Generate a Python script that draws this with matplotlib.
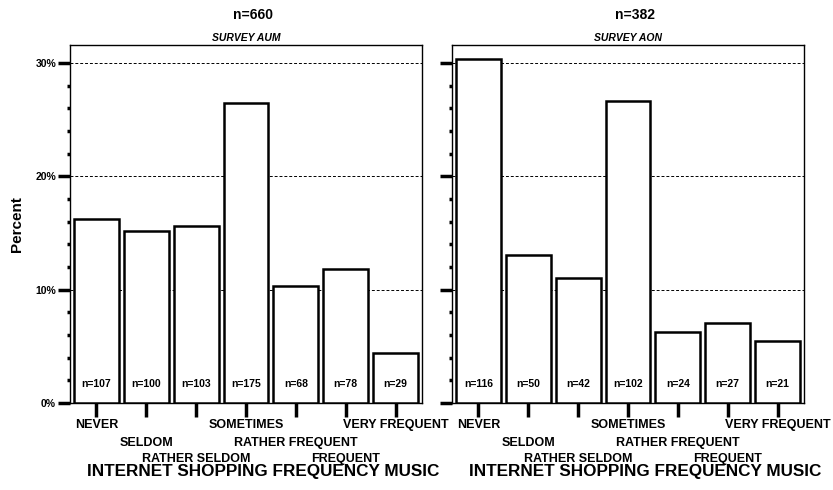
import matplotlib
matplotlib.use('Agg')
import matplotlib.pyplot as plt
from matplotlib.ticker import MultipleLocator, FuncFormatter

plt.rcParams['font.family'] = ['Liberation Sans', 'DejaVu Sans']
plt.rcParams['font.weight'] = 'bold'

categories = ['NEVER', 'SELDOM', 'RATHER SELDOM', 'SOMETIMES',
              'RATHER FREQUENT', 'FREQUENT', 'VERY FREQUENT']
aum_pct = [16.2, 15.2, 15.6, 26.5, 10.3, 11.8, 4.4]
aum_n = [107, 100, 103, 175, 68, 78, 29]
aon_pct = [30.4, 13.1, 11.0, 26.7, 6.3, 7.1, 5.5]
aon_n = [116, 50, 42, 102, 24, 27, 21]
panels = [('SURVEY AUM', 660, aum_pct, aum_n), ('SURVEY AON', 382, aon_pct, aon_n)]

fig = plt.figure(figsize=(8.33, 4.9), dpi=100)
lefts = [70 / 833, 452 / 833]
row_y = [-1.95, -3.55, -4.9]

for i, (survey, total, pct, counts) in enumerate(panels):
    ax = fig.add_axes([lefts[i], 87 / 490, 352 / 833, 358 / 490])
    x = range(len(categories))
    ax.bar(x, pct, width=0.9, color='white', edgecolor='black', linewidth=1.8, zorder=3)
    for xi, n in zip(x, counts):
        ax.text(xi, 1.2, f'n={n}', ha='center', va='bottom', fontsize=7.5,
                fontweight='bold', zorder=4)
    for g in (10, 20, 30):
        ax.axhline(g, color='black', linestyle=(0, (3, 2)), linewidth=0.7, zorder=1)
    ax.set_xlim(-0.53, 6.53)
    ax.set_ylim(0, 31.6)
    ax.yaxis.set_major_locator(MultipleLocator(10))
    ax.yaxis.set_minor_locator(MultipleLocator(2))
    ax.yaxis.set_major_formatter(FuncFormatter(lambda v, p: f'{int(v)}%'))
    ax.tick_params(axis='y', which='major', direction='out', length=9, width=2.5,
                   labelsize=7.5, pad=1)
    ax.tick_params(axis='y', which='minor', direction='out', length=2, width=2.5)
    if i == 1:
        ax.set_yticklabels([])
    ax.set_xticks(list(x))
    ax.set_xticklabels([])
    ax.tick_params(axis='x', direction='out', length=10, width=2.5, pad=2)
    for s in ax.spines.values():
        s.set_linewidth(1.0)
    # staggered category labels, three rows
    for xi, cat in enumerate(categories):
        ax.text(xi, row_y[xi % 3], cat, ha='center', va='center', fontsize=9,
                fontweight='bold', clip_on=False)
    ax.text(0.55, -0.19, 'INTERNET SHOPPING FREQUENCY MUSIC', transform=ax.transAxes,
            ha='center', va='center', fontsize=12.3, fontweight='bold')
    ax.text(0.5, 1.005, survey, transform=ax.transAxes, ha='center', va='bottom',
            fontsize=7.5, fontweight='bold', style='italic')
    ax.text(0.52, 1.065, f'n={total}', transform=ax.transAxes, ha='center', va='bottom',
            fontsize=10, fontweight='bold')
    if i == 0:
        ax.set_ylabel('Percent', fontsize=11, fontweight='bold', labelpad=8)

fig.savefig('out.png', dpi=100)
